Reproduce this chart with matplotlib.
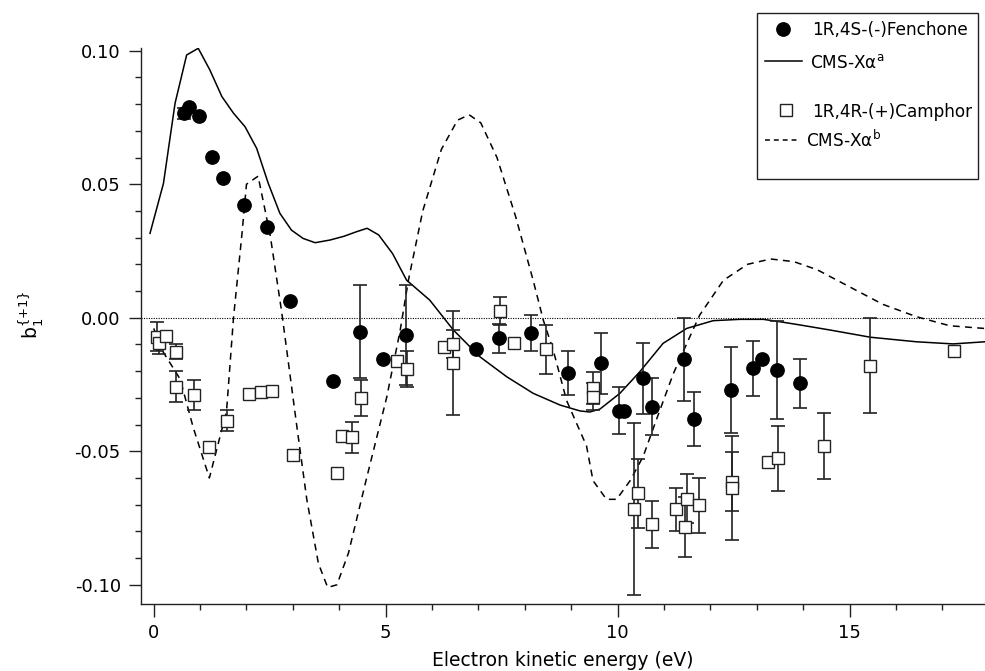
import numpy as np
import matplotlib
matplotlib.use('Agg')
import matplotlib.pyplot as plt
from matplotlib.lines import Line2D
from matplotlib.patches import Rectangle
from matplotlib.ticker import MultipleLocator, FuncFormatter

plt.rcParams['font.family'] = ['DejaVu Sans']
plt.rcParams['mathtext.fontset'] = 'dejavusans'
plt.rcParams['axes.unicode_minus'] = False

# ---------------- data ----------------
# CMS-Xalpha (a) theory curve
solid_x = [-0.08, 0.21, 0.46, 0.71, 0.96, 1.21, 1.47, 1.72, 1.97, 2.22, 2.47, 2.72, 2.97,
           3.22, 3.48, 3.80, 4.10, 4.37, 4.60, 4.85, 5.15, 5.45, 5.95, 6.46, 7.03, 7.61,
           8.18, 8.76, 9.19, 9.40, 9.62, 10.05, 10.48, 10.98, 11.49, 12.06, 12.64, 13.14,
           13.50, 13.93, 14.58, 15.45, 16.44, 17.23, 17.92]
solid_y = [0.0316, 0.0503, 0.0803, 0.0984, 0.1009, 0.0928, 0.0828, 0.0766, 0.0715, 0.0634,
           0.0503, 0.0391, 0.0328, 0.0297, 0.0281, 0.0291, 0.0305, 0.0322, 0.0335, 0.0310,
           0.0240, 0.0141, 0.0066, -0.0046, -0.0146, -0.0221, -0.0283, -0.0327, -0.0349,
           -0.0353, -0.0342, -0.0283, -0.0202, -0.0096, -0.0040, -0.0011, -0.0006, -0.0006,
           -0.0015, -0.0027, -0.0046, -0.0073, -0.0090, -0.0098, -0.0090]

# CMS-Xalpha (b) theory curve
dash_x = [0.00, 0.21, 0.57, 0.85, 1.20, 1.57, 1.72, 1.90, 2.00, 2.25, 2.51, 2.76, 3.08,
          3.30, 3.55, 3.75, 3.95, 4.20, 4.59, 5.02, 5.31, 5.49, 5.80, 6.20, 6.55, 6.80,
          7.05, 7.40, 7.80, 8.18, 8.40, 8.61, 8.90, 9.33, 9.47, 9.76, 9.98, 10.27, 10.55,
          10.84, 11.20, 11.56, 11.77, 12.28, 12.80, 13.30, 13.80, 14.30, 14.79, 15.72,
          16.44, 17.16, 17.90]
dash_y = [-0.004, -0.013, -0.023, -0.041, -0.060, -0.035, 0.000, 0.031, 0.050, 0.053,
          0.031, 0.002, -0.040, -0.068, -0.092, -0.101, -0.100, -0.088, -0.060, -0.030,
          -0.005, 0.014, 0.040, 0.063, 0.074, 0.076, 0.073, 0.060, 0.038, 0.014, -0.001,
          -0.012, -0.031, -0.048, -0.061, -0.068, -0.068, -0.061, -0.052, -0.038, -0.021,
          -0.007, 0.001, 0.014, 0.020, 0.022, 0.021, 0.018, 0.0135, 0.005, 0.0004,
          -0.003, -0.004]

# 1R,4S-(-)Fenchone measurements
fen_x = [0.65, 0.75, 0.98, 1.25, 1.50, 1.95, 2.45, 2.94, 3.86, 4.45, 4.95, 5.44, 6.94,
         7.44, 8.13, 8.94, 9.64, 10.03, 10.14, 10.54, 10.74, 11.44, 11.64, 12.44, 12.92,
         13.12, 13.43, 13.93]
fen_y = [0.0766, 0.0788, 0.0755, 0.0603, 0.0522, 0.0422, 0.0341, 0.0064, -0.0237, -0.0052,
         -0.0155, -0.0065, -0.0118, -0.0077, -0.0058, -0.0208, -0.0171, -0.0348, -0.0348,
         -0.0227, -0.0333, -0.0155, -0.0379, -0.0271, -0.0190, -0.0155, -0.0196, -0.0246]
fen_err = [0.002, 0.0, 0.0, 0.0, 0.0, 0.0, 0.0, 0.0, 0.0, 0.0173, 0.0, 0.0187, 0.0,
           0.0055, 0.0068, 0.0083, 0.0113, 0.0088, 0.0, 0.0134, 0.0107, 0.0155, 0.0101,
           0.0160, 0.0102, 0.0, 0.0182, 0.0092]

# 1R,4R-(+)Camphor measurements
cam_x = [0.08, 0.12, 0.27, 0.48, 0.48, 0.87, 1.20, 1.57, 2.06, 2.31, 2.56, 3.00, 3.95,
         4.05, 4.27, 4.46, 5.25, 5.47, 6.26, 6.46, 6.46, 7.46, 7.77, 8.45, 9.46, 9.46,
         10.36, 10.45, 10.75, 11.26, 11.46, 11.50, 11.75, 12.46, 12.46, 13.25, 13.45,
         14.45, 15.45, 17.25]
cam_y = [-0.0071, -0.0096, -0.0069, -0.0127, -0.0258, -0.0290, -0.0485, -0.0386, -0.0286,
         -0.0277, -0.0273, -0.0515, -0.0580, -0.0443, -0.0448, -0.0302, -0.0162, -0.0192,
         -0.0109, -0.0099, -0.0171, 0.0025, -0.0094, -0.0118, -0.0263, -0.0295, -0.0716,
         -0.0658, -0.0773, -0.0718, -0.0783, -0.0677, -0.0703, -0.0614, -0.0639, -0.0539,
         -0.0527, -0.0480, -0.0180, -0.0124]
cam_err = [0.0055, 0.004, 0.0, 0.0027, 0.0057, 0.0055, 0.0, 0.004, 0.0, 0.0, 0.0, 0.0,
           0.0, 0.0, 0.0057, 0.0067, 0.0, 0.0066, 0.0, 0.0052, 0.0195, 0.0052, 0.0,
           0.0091, 0.0060, 0.0050, 0.0323, 0.0130, 0.0088, 0.0080, 0.0112, 0.0090, 0.0102,
           0.0110, 0.0195, 0.0, 0.0120, 0.0125, 0.0178, 0.0]

x_ticks = [0, 5, 10, 15]
y_ticks = [-0.10, -0.05, 0.00, 0.05, 0.10]

legend_labels = ['1R,4S-(-)Fenchone', 'CMS-X\u03b1$^{\\mathrm{a}}$',
                 '1R,4R-(+)Camphor', 'CMS-X\u03b1$^{\\mathrm{b}}$']
x_label = 'Electron kinetic energy (eV)'
y_label = 'b$_1^{\\{+1\\}}$'

# ---------------- figure ----------------
W, H = 985, 671
fig = plt.figure(figsize=(W / 100, H / 100), dpi=100)
L, R, T, B = 141, 985, 48.3, 604
ax = fig.add_axes([L / W, 1 - B / H, (R - L) / W, (B - T) / H])
ax.set_xlim(-0.274, 17.92)
ax.set_ylim(-0.1072, 0.1009)

for s in ['top', 'right']:
    ax.spines[s].set_visible(False)
for s in ['left', 'bottom']:
    ax.spines[s].set_linewidth(1.0)
    ax.spines[s].set_color('#222222')

ax.set_xticks(x_ticks)
ax.set_yticks(y_ticks)
ax.xaxis.set_minor_locator(MultipleLocator(1))
ax.yaxis.set_minor_locator(MultipleLocator(0.01))
ax.yaxis.set_major_formatter(FuncFormatter(lambda v, p: ('%.2f' % v).replace('\u2212', '-')))
ax.xaxis.set_major_formatter(FuncFormatter(lambda v, p: '%d' % round(v)))
ax.tick_params(which='major', direction='out', length=9, width=1.0, labelsize=13,
               pad=5.5, color='#222222')
ax.tick_params(which='minor', direction='out', length=4.3, width=1.0, color='#222222')

# zero line
ax.axhline(0, color='black', lw=0.8, ls=(0, (1, 1.2)), zorder=1)

# theory curves
ax.plot(solid_x, solid_y, color='black', lw=1.1, zorder=2)
ax.plot(dash_x, dash_y, color='black', lw=1.1, dashes=(4.5, 3.5), zorder=2)

fx, fy, fe = map(np.asarray, (fen_x, fen_y, fen_err))
cx, cy, ce = map(np.asarray, (cam_x, cam_y, cam_err))

m = fe > 0
ax.errorbar(fx[m], fy[m], yerr=fe[m], fmt='none', ecolor='#222222', elinewidth=1.2,
            capsize=4.7, capthick=1.2, zorder=3)
m = ce > 0
ax.errorbar(cx[m], cy[m], yerr=ce[m], fmt='none', ecolor='#222222', elinewidth=1.2,
            capsize=4.7, capthick=1.2, zorder=3)

ax.plot(fx, fy, 'o', ms=9.6, color='black', zorder=4)
ax.plot(cx, cy, 's', ms=8.9, mfc='white', mec='#222222', mew=1.0, zorder=5)

ax.set_xlabel(x_label, fontsize=13.5)
ax.xaxis.set_label_coords(0.5, -0.085)
ax.set_ylabel(y_label, fontsize=13.5)
ax.yaxis.set_label_coords(-0.112, 0.52)

# ---------------- legend (drawn in figure pixels) ----------------
def fxp(px):
    return px / W

def fyp(py):
    return 1 - py / H

fig.add_artist(Rectangle((fxp(757), fyp(179)), (978 - 757) / W, (179 - 13) / H,
                         transform=fig.transFigure, fill=False, lw=1.0, ec='#222222'))
fig.add_artist(Line2D([fxp(783.3)], [fyp(29.3)], marker='o', ms=9.6, color='black',
                      transform=fig.transFigure))
fig.add_artist(Line2D([fxp(765), fxp(801.7)], [fyp(60.7)] * 2, color='black', lw=1.1,
                      transform=fig.transFigure))
fig.add_artist(Line2D([fxp(785.7)], [fyp(110)], marker='s', ms=8.9, mfc='white',
                      mec='#222222', mew=1.0, transform=fig.transFigure))
fig.add_artist(Line2D([fxp(765), fxp(800)], [fyp(140)] * 2, color='black', lw=1.1,
                      dashes=(3.2, 2.6), transform=fig.transFigure))
fig.text(fxp(811.7), fyp(35), legend_labels[0], fontsize=12.2, va='baseline', ha='left')
fig.text(fxp(810), fyp(68.3), legend_labels[1], fontsize=12.2, va='baseline', ha='left')
fig.text(fxp(811.7), fyp(116.7), legend_labels[2], fontsize=12.2, va='baseline', ha='left')
fig.text(fxp(806), fyp(146.7), legend_labels[3], fontsize=12.2, va='baseline', ha='left')

fig.savefig('out.png', dpi=100)
